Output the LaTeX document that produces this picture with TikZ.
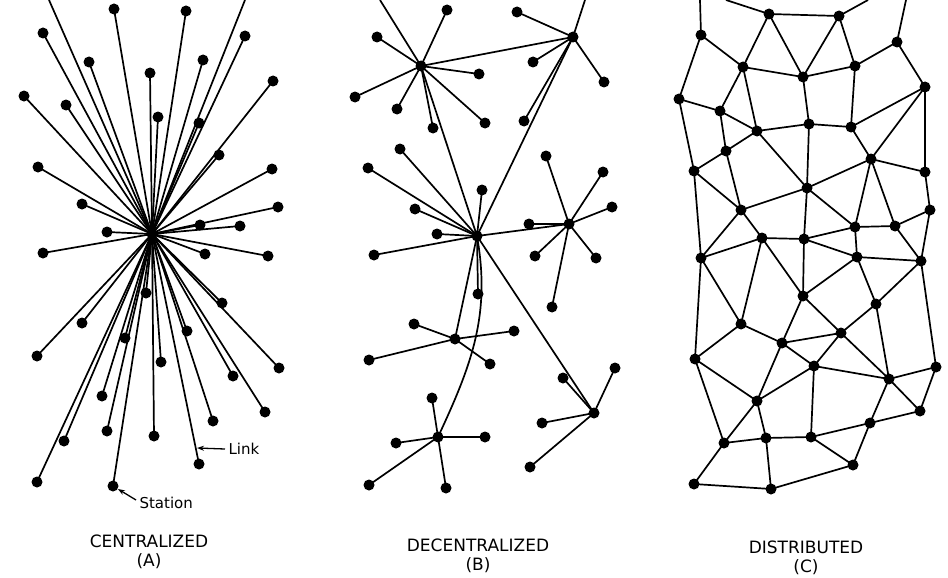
\documentclass[tikz,border=0pt]{standalone}
\usepackage{fontspec}
\setsansfont{DejaVu Sans}
\usetikzlibrary{arrows.meta}

\begin{document}
\begin{tikzpicture}[x=1pt, y=-1pt,
    every node/.style={font=\sffamily},
    station/.style={circle, fill=black, inner sep=0pt, minimum size=11pt},
    link/.style={line width=1.7pt},
    pointer/.style={line width=1.3pt, -{Stealth[length=7pt, width=5pt]}},
    tag/.style={font=\sffamily\fontsize{15}{18}\selectfont, anchor=west},
    caption/.style={font=\sffamily\fontsize{17}{19}\selectfont, align=center},
]
\useasboundingbox (0,0) rectangle (948,578);
% (A) one hub, every station on it
\node[station] (hA) at (152,234) {};
\foreach \x/\y [count=\i] in {114/9, 186/11, 43/33, 245/36, 89/62, 203/60, 150/73, 273/81, 24/96, 66/105,
    158/117, 199/123, 219/155, 38/167, 272/169, 82/204, 278/207, 200/225, 240/226, 107/232,
    43/253, 205/254, 268/256, 146/293, 222/303, 82/323, 187/331, 125/338, 37/356, 161/362,
    279/368, 233/376, 102/396, 265/412, 213/421, 107/431, 64/441, 154/436, 199/464, 37/482, 113/486} {
    \node[station] (a\i) at (\x,\y) {};
    \draw[link] (hA.center) -- (a\i.center);
}
\coordinate (aTop1) at (49,0); \coordinate (aTop2) at (245,0);
\draw[link] (hA.center) -- (aTop1) (hA.center) -- (aTop2);
\node[tag] (lnk) at (225,449) {Link};
\coordinate (lnkTip) at (197,448);
\draw[pointer] (lnk.west) -- (lnkTip);
\node[tag] (stn) at (136,503) {Station};
\draw[pointer] ([yshift=3pt]stn.west) -- (a41);
\node[caption] (capA) at (149,552) {CENTRALIZED\\(A)};
% (B) several hubs
\node[station] (bA) at (421,66) {};
\node[station] (bB) at (573,37) {};
\node[station] (bC) at (477,236) {};
\node[station] (bD) at (569,224) {};
\node[station] (bE) at (455,339) {};
\node[station] (bF) at (438,437) {};
\node[station] (bG) at (594,413) {};
\foreach \h/\x/\y [count=\i] in {bA/447/10, bA/377/37, bA/479/74, bA/355/97, bA/397/109, bA/433/128, bA/485/123,
    bB/517/12, bB/533/62, bB/604/82, bB/524/121,
    bC/400/149, bC/368/168, bC/482/190, bC/415/209, bC/437/234, bC/374/255, bC/478/294,
    bD/529/224, bD/546/156, bD/603/172, bD/612/207, bD/535/256, bD/596/258, bD/552/307,
    bE/414/324, bE/514/331, bE/369/360, bE/490/364,
    bF/432/398, bF/396/443, bF/485/437, bF/369/485, bF/446/488,
    bG/563/378, bG/615/368, bG/542/423, bG/530/467} {
    \node[station] (b\i) at (\x,\y) {};
    \draw[link] (\h.center) -- (b\i.center);
}
\coordinate (bTop1) at (380,0); \coordinate (bTop2) at (585,0);
\draw[link] (bA.center) -- (bTop1) (bB.center) -- (bTop2);
\draw[link] (bA.center) -- (bB.center) (bA.center) -- (bC.center) (bB.center) -- (bC.center)
    (bC.center) -- (bD.center) (bC.center) -- (bE.center) (bC.center) -- (bG.center);
\draw[link] (bC.center) to[out=-80, in=65] (bF.center);
\node[caption] (capB) at (478,556) {DECENTRALIZED\\(B)};
% (C) mesh
\foreach \x/\y [count=\i] in {769/14, 839/16, 701/35, 897/42, 743/67, 855/66, 803/77, 925/87, 679/99, 720/111,
    809/124, 851/127, 757/131, 726/151, 871/159, 694/171, 925/172, 807/188, 741/210, 930/210,
    855/227, 895/226, 762/238, 804/239, 701/258, 857/257, 921/261, 803/296, 876/304, 741/324,
    841/333, 782/343, 695/359, 814/366, 936/367, 889/379, 757/401, 920/411, 870/423, 724/443,
    766/438, 811/437, 853/465, 694/484, 771/489} {
    \node[station] (c\i) at (\x,\y) {};
}
\foreach \s/\t in {1/2, 1/5, 1/7, 2/7, 2/6, 3/5, 3/9, 4/6, 4/8, 5/7, 5/10, 5/13, 6/7, 6/12, 7/11,
    8/12, 8/15, 8/17, 9/10, 9/16, 10/13, 10/14, 11/12, 11/13, 11/18, 12/15, 13/14, 13/18,
    14/16, 14/19, 15/17, 15/18, 15/21, 15/22, 16/19, 16/25, 17/20, 18/19, 18/21, 18/24,
    19/23, 19/25, 20/22, 20/27, 21/22, 21/24, 21/26, 22/27, 23/24, 23/25, 23/28, 23/30,
    24/26, 24/28, 25/30, 25/33, 26/27, 26/28, 26/29, 27/29, 27/35, 28/31, 28/32, 29/31,
    29/36, 30/32, 30/33, 31/32, 31/34, 31/36, 32/34, 32/37, 33/37, 33/40, 34/36, 34/37,
    34/42, 35/36, 35/38, 36/38, 36/39, 37/40, 37/41, 38/39, 39/42, 39/43, 40/41, 40/44,
    41/42, 41/45, 42/43, 43/45, 44/45} {
    \draw[link] (c\s.center) -- (c\t.center);
}
\coordinate (cTop1) at (700,0); \coordinate (cTop2) at (726,0);
\coordinate (cTop3) at (868,0); \coordinate (cTop4) at (906,0);
\draw[link] (c3.center) -- (cTop1) (c1.center) -- (cTop2) (c2.center) -- (cTop3) (c4.center) -- (cTop4);
\node[caption] (capC) at (806,558) {DISTRIBUTED\\(C)};
\end{tikzpicture}
\end{document}
